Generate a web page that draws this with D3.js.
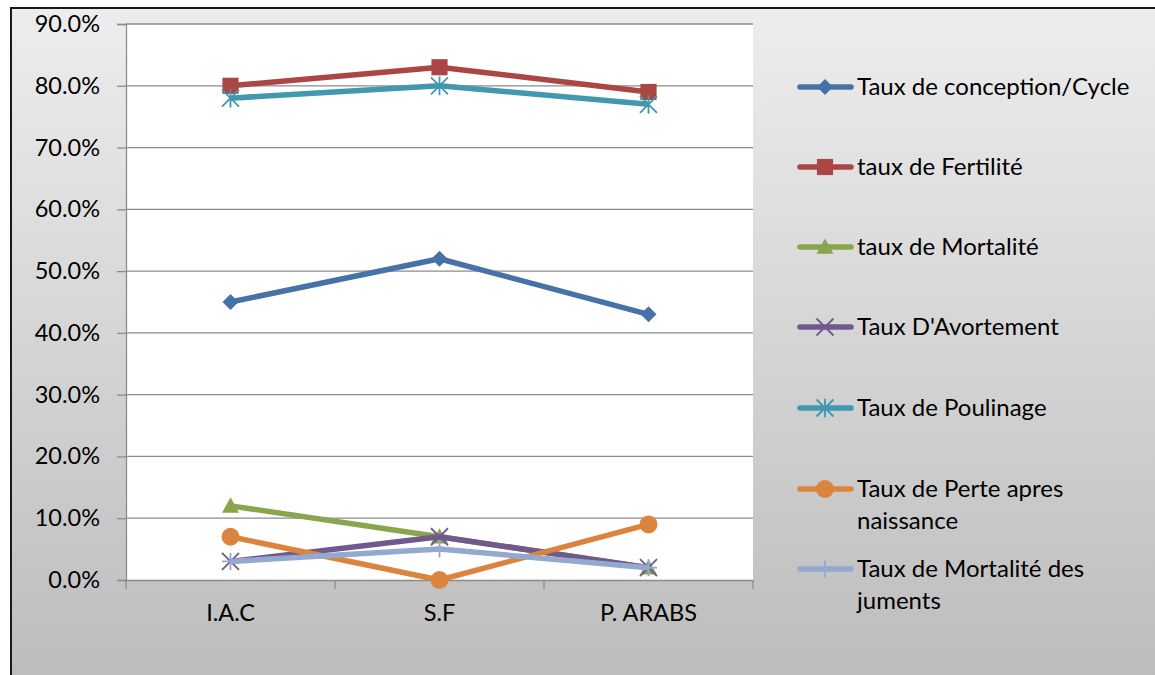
<!DOCTYPE html>
<html>
<head>
<meta charset="utf-8">
<script src="https://cdn.jsdelivr.net/npm/d3@7/dist/d3.min.js"></script>
<style>
  body { margin: 0; background: #fff; }
  svg { display: block; font-family: Lato, "Open Sans", sans-serif; }
</style>
</head>
<body>
<div id="chart"></div>
<script>
// values (percent)
const categories = ["I.A.C", "S.F", "P. ARABS"];
const seriesNames = [
  "Taux de conception/Cycle",
  "taux de Fertilité",
  "taux de Mortalité",
  "Taux D'Avortement",
  "Taux de Poulinage",
  "Taux de Perte apres naissance",
  "Taux de Mortalité des juments"
];
const conception = [45, 52, 43];
const fertilite = [80, 83, 79];
const mortalite = [12, 7, 2];
const avortement = [3, 7, 2];
const poulinage = [78, 80, 77];
const perte = [7, 0, 9];
const mortJuments = [3, 5, 2];
const yTicks = [0, 10, 20, 30, 40, 50, 60, 70, 80, 90];

const colors = ["#4572A7", "#AA4643", "#89A54E", "#71588F", "#4198AF", "#DB843D", "#93A9CF"];
const markers = ["diamond", "square", "triangle", "x", "star", "circle", "plus"];
// legend labels wrapped the way the picture wraps them
const legendLines = [
  ["Taux de conception/Cycle"],
  ["taux de Fertilité"],
  ["taux de Mortalité"],
  ["Taux D'Avortement"],
  ["Taux de Poulinage"],
  ["Taux de Perte apres", "naissance"],
  ["Taux de Mortalité des", "juments"]
];

const series = [conception, fertilite, mortalite, avortement, poulinage, perte, mortJuments]
  .map((v, i) => ({ name: seriesNames[i], values: v, color: colors[i], marker: markers[i] }));

const W = 1155, H = 675;
const plot = { left: 126, right: 753, top: 24, bottom: 580 };
const fontSize = 23.5;

const svg = d3.select("#chart").append("svg").attr("width", W).attr("height", H);

const defs = svg.append("defs");
const grad = defs.append("linearGradient").attr("id", "bg").attr("x1", 0).attr("y1", 0).attr("x2", 0).attr("y2", 1);
grad.append("stop").attr("offset", "0%").attr("stop-color", "#ededed");
grad.append("stop").attr("offset", "100%").attr("stop-color", "#bcbcbc");

// chart area with frame
svg.append("rect").attr("x", 11).attr("y", 8).attr("width", W).attr("height", H)
  .attr("fill", "url(#bg)").attr("stroke", "#1a1a1a").attr("stroke-width", 2);

// plot area
svg.append("rect").attr("x", plot.left).attr("y", plot.top)
  .attr("width", plot.right - plot.left).attr("height", plot.bottom - plot.top)
  .attr("fill", "#fff");

const x = d3.scaleBand().domain(categories).range([plot.left, plot.right]);
const y = d3.scaleLinear().domain([0, 90]).range([plot.bottom, plot.top]);

// gridlines
svg.append("g").selectAll("line").data(yTicks.slice(1)).join("line")
  .attr("x1", plot.left).attr("x2", plot.right)
  .attr("y1", d => y(d)).attr("y2", d => y(d))
  .attr("stroke", "#8c8c8c").attr("stroke-width", 1.3);

// y axis
const yAxis = svg.append("g").attr("transform", `translate(${plot.left},0)`)
  .call(d3.axisLeft(y).tickValues(yTicks).tickSize(9).tickPadding(17).tickFormat(d => d.toFixed(1) + "%"));
yAxis.selectAll("line, path").attr("stroke", "#8c8c8c").attr("stroke-width", 1.3);
yAxis.selectAll("text").attr("font-size", fontSize).attr("fill", "#000").attr("font-family", "Lato, sans-serif");

// x axis
const xAxis = svg.append("g").attr("transform", `translate(0,${plot.bottom})`)
  .call(d3.axisBottom(x).tickSize(0).tickPadding(24));
xAxis.select("path").attr("stroke", "#8c8c8c").attr("stroke-width", 1.3);
xAxis.selectAll("text").attr("font-size", fontSize).attr("fill", "#000").attr("font-family", "Lato, sans-serif");
xAxis.append("g").selectAll("line").data(categories.map(c => x(c)).concat([plot.right])).join("line")
  .attr("x1", d => d).attr("x2", d => d).attr("y1", 0).attr("y2", 9)
  .attr("stroke", "#8c8c8c").attr("stroke-width", 1.3);

function drawMarker(g, type, color, s) {
  if (type === "diamond") {
    g.append("path").attr("d", `M0,${-s}L${s},0L0,${s}L${-s},0Z`).attr("fill", color);
  } else if (type === "square") {
    g.append("rect").attr("x", -s * 0.95).attr("y", -s * 0.95).attr("width", s * 1.9).attr("height", s * 1.9).attr("fill", color);
  } else if (type === "triangle") {
    g.append("path").attr("d", `M0,${-s}L${s},${s * 0.8}L${-s},${s * 0.8}Z`).attr("fill", color);
  } else if (type === "circle") {
    g.append("circle").attr("r", s).attr("fill", color);
  } else if (type === "x") {
    g.append("path").attr("d", `M${-s},${-s}L${s},${s}M${s},${-s}L${-s},${s}`).attr("stroke", color).attr("stroke-width", 1.8);
  } else if (type === "star") {
    g.append("path").attr("d", `M${-s},${-s}L${s},${s}M${s},${-s}L${-s},${s}M0,${-s * 1.1}L0,${s * 1.1}`).attr("stroke", color).attr("stroke-width", 1.8);
  } else if (type === "plus") {
    g.append("path").attr("d", `M0,${-s}L0,${s}M${-s},0L${s},0`).attr("stroke", color).attr("stroke-width", 1.8);
  }
}
const markerSize = m => (m === "circle" ? 9 : m === "diamond" ? 8 : 8.5);

const cx = c => x(c) + x.bandwidth() / 2;
const line = d3.line().x((d, i) => cx(categories[i])).y(d => y(d));

series.forEach(s => {
  const g = svg.append("g");
  g.append("path").attr("d", line(s.values)).attr("fill", "none")
    .attr("stroke", s.color).attr("stroke-width", 5.5).attr("stroke-linejoin", "round");
  s.values.forEach((v, i) => {
    const m = g.append("g").attr("transform", `translate(${cx(categories[i])},${y(v)})`);
    drawMarker(m, s.marker, s.color, markerSize(s.marker));
  });
});

// legend
const legY = [87, 167, 247, 327, 408, 489, 569];
const leg = svg.append("g");
series.forEach((s, i) => {
  const g = leg.append("g").attr("transform", `translate(0,${legY[i]})`);
  g.append("line").attr("x1", 800).attr("x2", 851).attr("y1", 0).attr("y2", 0)
    .attr("stroke", s.color).attr("stroke-width", 5.5).attr("stroke-linecap", "round");
  const m = g.append("g").attr("transform", "translate(825,0)");
  drawMarker(m, s.marker, s.color, markerSize(s.marker));
  const t = g.append("text").attr("x", 857).attr("y", 0).attr("font-size", 24).attr("fill", "#000");
  legendLines[i].forEach((l, j) => {
    t.append("tspan").attr("x", 857).attr("dy", j === 0 ? "0.35em" : 32).text(l);
  });
});
</script>
</body>
</html>
